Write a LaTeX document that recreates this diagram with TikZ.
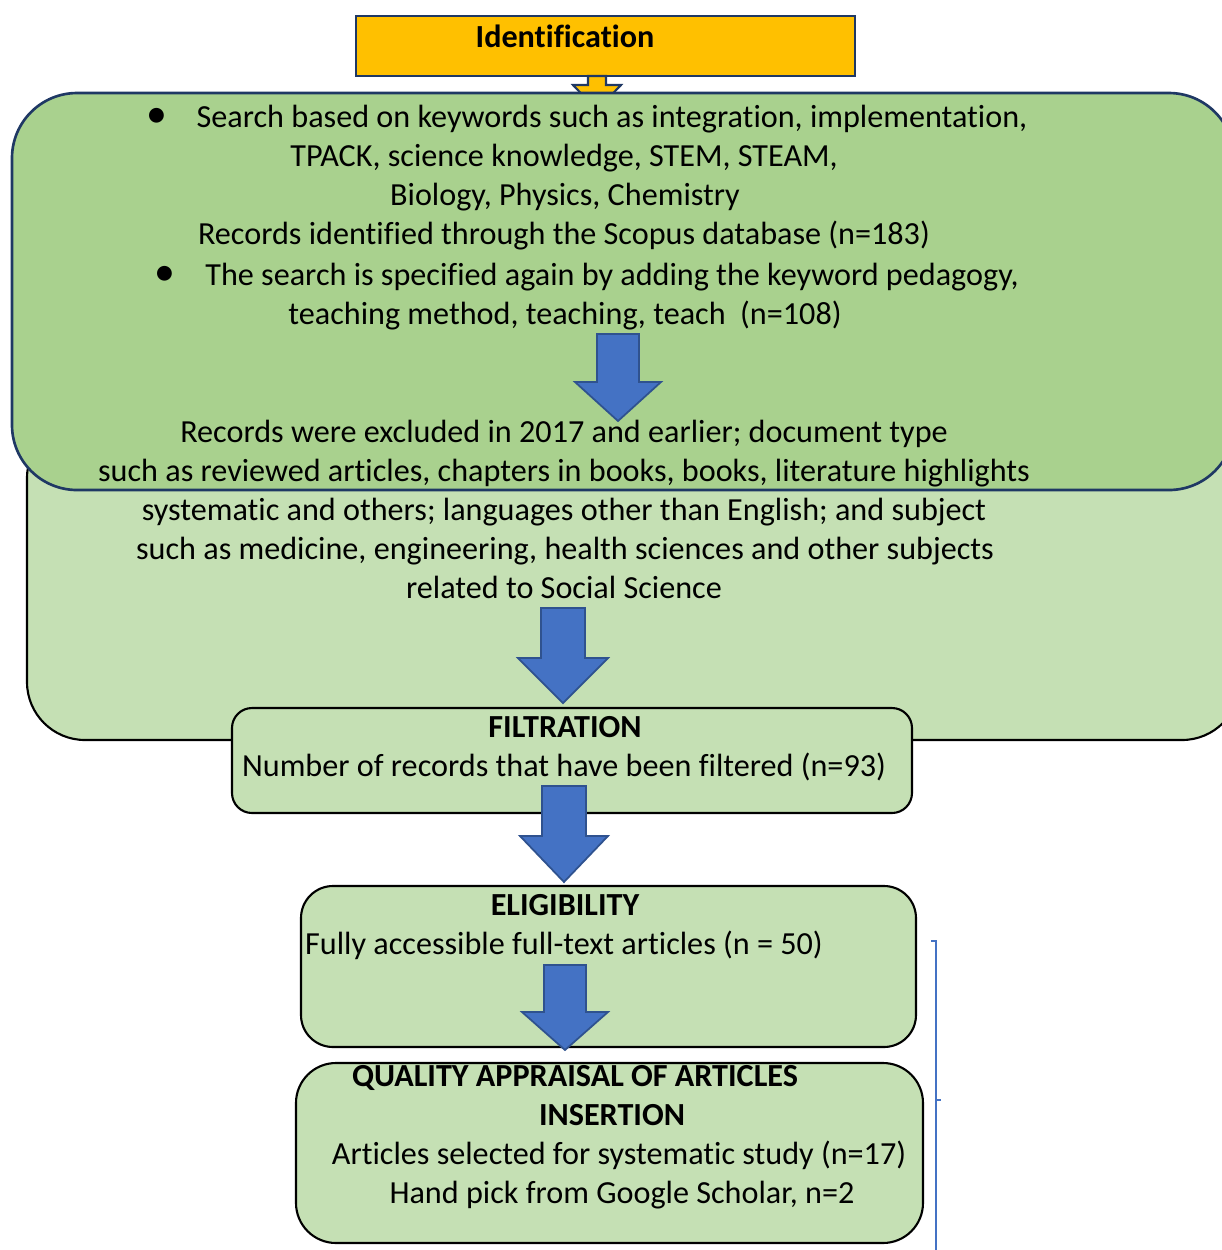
\documentclass[tikz,border=0pt]{standalone}
\usepackage{fontspec}
\setmainfont{Carlito}[Ligatures=NoCommon]
\usepackage{xcolor}
\usetikzlibrary{calc,positioning}
\definecolor{idyellow}{HTML}{FFC000}
\definecolor{navyline}{HTML}{1F3864}
\definecolor{darkgreen}{HTML}{A9D18E}
\definecolor{lightgreen}{HTML}{C5E0B4}
\definecolor{arrowblue}{HTML}{4472C4}
\definecolor{arrowedge}{HTML}{2F528F}
\tikzset{%
	idbox/.style     = {draw=navyline, line width=0.6pt, fill=idyellow},
	searchbox/.style = {draw=navyline, line width=0.75pt, fill=darkgreen, rounded corners=0.65cm},
	stagebox/.style  = {draw=black, line width=0.6pt, fill=lightgreen},
	txt/.style       = {inner sep=0pt, anchor=base, font=\fontsize{9.15}{11}\selectfont},
	btxt/.style      = {txt, font=\fontsize{9.15}{11}\selectfont\bfseries},
	blockarrow/.style= {draw=arrowedge, line width=0.5pt, fill=arrowblue, line join=miter},
	bracket/.style   = {draw=arrowblue, line width=0.35pt},
}
% block arrow pointing down: style, centre x, top y, stem half width, neck y, head half width, tip y
\newcommand{\dnarrow}[7]{\filldraw[#1] (#2-#4,#3) -- (#2+#4,#3) -- (#2+#4,#5) -- (#2+#6,#5) -- (#2,#7) -- (#2-#6,#5) -- (#2-#4,#5) -- cycle;}

\begin{document}
\begin{tikzpicture}[x=0.01cm,y=-0.01cm]
		\useasboundingbox (0,0) rectangle (1222,1250);
		
		% identification
		\draw[idbox] (356,16) rectangle (855,76);
		\node[btxt] (ident) at (565,47) {Identification};
		\dnarrow{idbox}{597}{76}{9}{85}{24}{110}
		
		% screening boxes
		\draw[stagebox, rounded corners=0.58cm] (27,420) rectangle (1240,740);
		\draw[searchbox] (12,93) rectangle (1234,490);
		
		\node[txt, scale=1.3] (bulA) at (157,127) {\textbullet};
		\node[txt] (l1) at (612,127) {Search based on keywords such as integration, implementation,};
		\node[txt] (l2) at (564,166) {TPACK, science knowledge, STEM, STEAM,};
		\node[txt] (l3) at (565,205) {Biology, Physics, Chemistry};
		\node[txt] (l4) at (564,244) {Records identified through the Scopus database (n=183)};
		\node[txt, scale=1.3] (bulB) at (165,285) {\textbullet};
		\node[txt] (l5) at (612,285) {The search is specified again by adding the keyword pedagogy,};
		\node[txt] (l6) at (565,324) {teaching method, teaching, teach\ \ (n=108)};
		
		\dnarrow{blockarrow}{618}{334}{21}{382}{43}{421}
		
		\node[txt] (l7) at (564,442) {Records were excluded in 2017 and earlier; document type};
		\node[txt] (l8) at (564,481) {such as reviewed articles, chapters in books, books, literature highlights};
		\node[txt] (l9) at (564,520) {systematic and others; languages other than English; and subject};
		\node[txt] (l10) at (565,559) {such as medicine, engineering, health sciences and other subjects};
		\node[txt] (l11) at (564,598) {related to Social Science};
		
		\dnarrow{blockarrow}{563}{608}{22}{658}{45}{703}
		
		% filtration
		\draw[stagebox, rounded corners=0.2cm] (232,708) rectangle (912,813);
		\node[btxt] (filtt) at (565,737) {FILTRATION};
		\node[txt] (filtn) at (564,776) {Number of records that have been filtered (n=93)};
		
		\dnarrow{blockarrow}{564}{786}{22}{836}{44}{882}
		
		% eligibility
		\draw[stagebox, rounded corners=0.32cm] (301,886) rectangle (916,1047);
		\node[btxt] (eligt) at (565,915) {ELIGIBILITY};
		\node[txt] (elign) at (564,954) {Fully accessible full-text articles (n = 50)};
		
		\dnarrow{blockarrow}{565}{965}{21}{1012}{43}{1050}
		
		% quality appraisal / insertion
		\draw[stagebox, rounded corners=0.4cm] (296,1063) rectangle (923,1243);
		\node[btxt] (qualt) at (575,1086) {QUALITY APPRAISAL OF ARTICLES};
		\node[btxt] (inst) at (612,1125) {INSERTION};
		\node[txt] (insa) at (619,1164) {Articles selected for systematic study (n=17)};
		\node[txt] (insb) at (622,1203) {Hand pick from Google Scholar, n=2};
		
		% bracket
		\draw[bracket] (931,941) -- (936,941) -- (936,1250);
		\draw[bracket] (936,1100) -- (941,1100);
		
\end{tikzpicture}
\end{document}
